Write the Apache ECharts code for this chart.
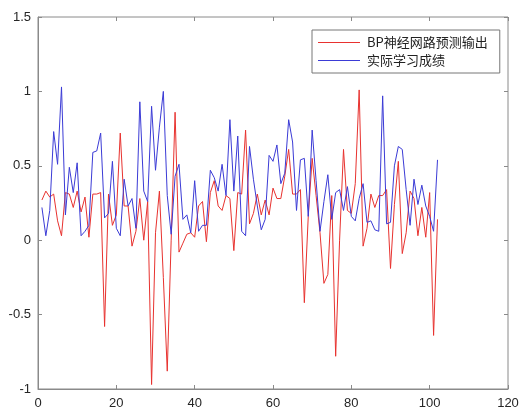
<!DOCTYPE html>
<html>
<head>
<meta charset="utf-8">
<script src="https://cdn.jsdelivr.net/npm/echarts@6/dist/echarts.min.js"></script>
<style>
  html, body { margin: 0; padding: 0; background: #fff; }
  #main { width: 524px; height: 413px; }
</style>
</head>
<body>
<div id="main"></div>
<script>
// 预测输出 (red)
var predicted = [
  0.27, 0.33, 0.29, 0.31, 0.13, 0.03, 0.32, 0.31, 0.22, 0.33,
  0.19, 0.29, 0.02, 0.31, 0.31, 0.32, -0.58, 0.31, 0.10, 0.17,
  0.72, 0.23, 0.23, -0.04, 0.06, 0.28, 0.00, 0.26, -0.97, 0.05,
  0.33, -0.25, -0.88, 0.00, 0.86, -0.08, -0.02, 0.04, 0.05, 0.02,
  0.23, 0.26, -0.01, 0.32, 0.40, 0.23, 0.20, 0.30, 0.28, -0.07,
  0.32, 0.31, 0.74, 0.11, 0.18, 0.31, 0.17, 0.27, 0.17, 0.35,
  0.28, 0.28, 0.43, 0.61, 0.31, 0.31, 0.34, -0.42, 0.16, 0.55,
  0.30, 0.05, -0.29, -0.23, 0.30, -0.78, 0.00, 0.61, 0.20, 0.18,
  0.38, 1.01, -0.04, 0.08, 0.31, 0.22, 0.30, 0.30, 0.34, -0.19,
  0.24, 0.53, -0.09, 0.05, 0.33, 0.28, 0.03, 0.22, 0.02, 0.32,
  -0.64, 0.14
];
// 实际成绩 (blue)
var actual = [
  0.22, 0.03, 0.20, 0.73, 0.51, 1.03, 0.17, 0.49, 0.32, 0.52,
  0.03, 0.06, 0.10, 0.59, 0.60, 0.72, 0.15, 0.18, 0.53, 0.08,
  0.03, 0.41, 0.23, 0.28, 0.08, 0.93, 0.33, 0.26, 0.90, 0.47,
  0.76, 1.00, 0.30, 0.04, 0.43, 0.51, 0.14, 0.17, 0.05, 0.40,
  0.06, 0.10, 0.10, 0.47, 0.42, 0.33, 0.51, 0.30, 0.81, 0.33,
  0.70, 0.06, 0.03, 0.63, 0.41, 0.23, 0.07, 0.14, 0.57, 0.53,
  0.64, 0.38, 0.45, 0.81, 0.66, 0.20, 0.54, 0.55, 0.16, 0.74,
  0.40, 0.06, 0.26, 0.44, 0.14, 0.32, 0.34, 0.20, 0.36, 0.16,
  0.13, 0.28, 0.38, 0.12, 0.13, 0.07, 0.06, 0.97, 0.11, 0.12,
  0.50, 0.63, 0.61, 0.34, 0.10, 0.41, 0.24, 0.37, 0.23, 0.16,
  0.06, 0.54
];
var seriesNames = ['BP神经网路预测输出', '实际学习成绩'];
var xTicks = [0, 20, 40, 60, 80, 100, 120];
var yTicks = [-1, -0.5, 0, 0.5, 1, 1.5];

function pairs(arr) {
  return arr.map(function (v, i) { return [i + 1, v]; });
}

var chart = echarts.init(document.getElementById('main'));
var axisColor = '#8a8a8a';
var labelStyle = { color: '#262626', fontSize: 13, fontFamily: 'Liberation Sans, Arial, sans-serif' };

var option = {
  backgroundColor: '#fff',
  animation: false,
  grid: {
    left: 38, right: 16, top: 17, bottom: 24,
    show: true, borderColor: axisColor, borderWidth: 1
  },
  legend: {
    orient: 'vertical',
    left: 312, top: 30,
    data: seriesNames,
    icon: 'rect',
    itemWidth: 42, itemHeight: 1, itemGap: 5,
    padding: [6, 12, 6, 6],
    borderColor: '#777', borderWidth: 1,
    backgroundColor: '#fff',
    textStyle: { color: '#222', fontSize: 13, fontFamily: 'Noto Sans CJK SC', padding: [0, 0, 0, 2] }
  },
  xAxis: [{
    type: 'value', min: xTicks[0], max: xTicks[xTicks.length - 1], interval: 20,
    axisLine: { onZero: false, lineStyle: { color: axisColor } },
    axisTick: { inside: true, length: 4, lineStyle: { color: axisColor } },
    axisLabel: Object.assign({ margin: 8 }, labelStyle),
    splitLine: { show: false }
  }, {
    type: 'value', position: 'top', min: xTicks[0], max: xTicks[xTicks.length - 1], interval: 20,
    axisLine: { show: false, onZero: false },
    axisTick: { inside: true, length: 4, lineStyle: { color: axisColor } },
    axisLabel: { show: false },
    splitLine: { show: false }
  }],
  yAxis: [{
    type: 'value', min: yTicks[0], max: yTicks[yTicks.length - 1], interval: 0.5,
    axisLine: { show: true, onZero: false, lineStyle: { color: axisColor } },
    axisTick: { show: true, inside: true, length: 4, lineStyle: { color: axisColor } },
    axisLabel: Object.assign({ margin: 7 }, labelStyle),
    splitLine: { show: false }
  }, {
    type: 'value', position: 'right', min: yTicks[0], max: yTicks[yTicks.length - 1], interval: 0.5,
    axisLine: { show: false, onZero: false },
    axisTick: { show: true, inside: true, length: 4, lineStyle: { color: axisColor } },
    axisLabel: { show: false },
    splitLine: { show: false }
  }],
  series: [{
    name: seriesNames[0],
    type: 'line',
    data: pairs(predicted),
    symbol: 'none',
    lineStyle: { color: '#e8322f', width: 1 },
    itemStyle: { color: '#e8322f' }
  }, {
    name: seriesNames[1],
    type: 'line',
    data: pairs(actual),
    symbol: 'none',
    lineStyle: { color: '#3b3bd6', width: 1 },
    itemStyle: { color: '#3b3bd6' }
  }]
};
chart.setOption(option);
</script>
</body>
</html>
